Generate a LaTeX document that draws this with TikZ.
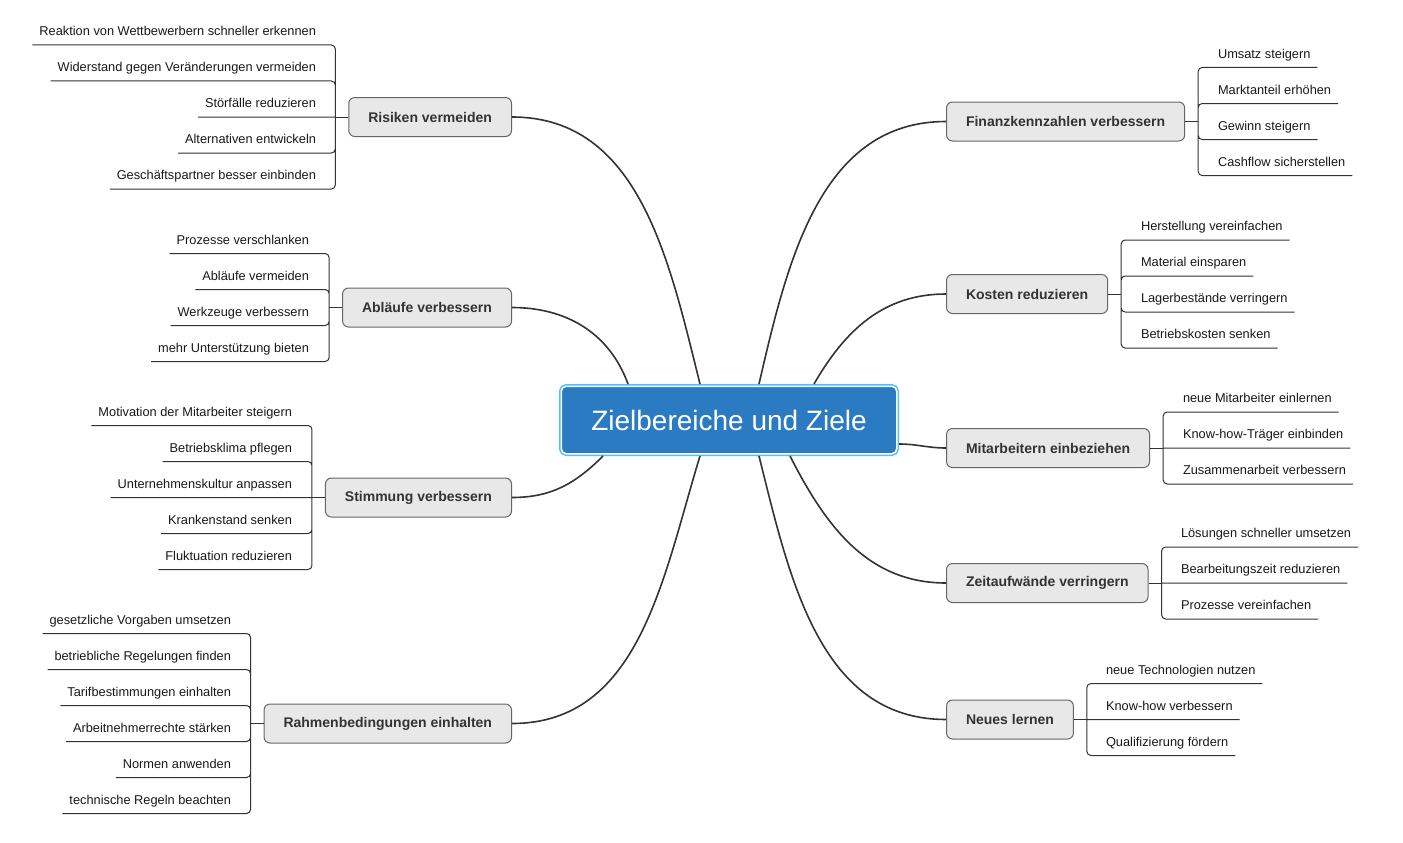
\documentclass[tikz,border=0pt]{standalone}
\usepackage{fontspec}
\setmainfont{Liberation Sans}
\usepackage{xcolor}
\usepackage{tikz}
\usetikzlibrary{calc}

\definecolor{mainblue}{HTML}{2B7BC2}
\definecolor{mainring}{HTML}{4CC2F5}
\definecolor{boxgray}{HTML}{E8E8E8}
\definecolor{linegray}{HTML}{333333}

\tikzset{
  mainbox/.style={fill=mainblue, draw=white, line width=1.5pt,
    preaction={draw=mainring, line width=4.5pt}, rounded corners=5pt,
    minimum width=335.5pt, minimum height=67.5pt, outer sep=2.25pt,
    text=white, font=\fontsize{28}{34}\selectfont},
  topic/.style={draw=black!60, fill=boxgray, rounded corners=6pt, line width=1pt,
    minimum height=39pt, inner xsep=19.5pt, text=black!80,
    font=\bfseries\fontsize{14}{17}\selectfont},
  leafl/.style={anchor=south east, inner xsep=7pt, inner ysep=5.4pt, outer sep=0pt,
    text height=10pt, text depth=4pt, text=black!90, font=\fontsize{12.8}{15}\selectfont},
  leafr/.style={leafl, anchor=south west},
  curve/.style={draw=linegray, line width=1.6pt},
  brace/.style={draw=linegray, line width=1pt, rounded corners=4pt}
}

\begin{document}
\begin{tikzpicture}[x=1pt,y=-1pt]
    \useasboundingbox[fill=white] (0,0) rectangle (1403,843);

    % centre
    \node[mainbox] (main) at (729,420) {Zielbereiche und Ziele};

    % left topics
    \node[topic, anchor=east] (ris) at (512,117) {Risiken vermeiden};
    \node[topic, anchor=east] (abl) at (512,307.5) {Abläufe verbessern};
    \node[topic, anchor=east] (sti) at (512,497.5) {Stimmung verbessern};
    \node[topic, anchor=east] (rah) at (512,723.5) {Rahmenbedingungen einhalten};

    % right topics
    \node[topic, anchor=west] (fin) at (946,121.5) {Finanzkennzahlen verbessern};
    \node[topic, anchor=west] (kos) at (946,294) {Kosten reduzieren};
    \node[topic, anchor=west] (mit) at (946,448) {Mitarbeitern einbeziehen};
    \node[topic, anchor=west] (zei) at (946,583) {Zeitaufwände verringern};
    \node[topic, anchor=west] (neu) at (946,719.5) {Neues lernen};

    % curves from the centre
    \draw[curve] ($(main.north)+(-29,0)$) to[out=104,in=0] (ris.east);
    \draw[curve] ($(main.north)+(-101,0)$) to[out=110,in=0] (abl.east);
    \draw[curve] ($(main.south)+(-126,0)$) to[out=225,in=0] (sti.east);
    \draw[curve] ($(main.south)+(-29,0)$) to[out=253,in=0] (rah.east);
    \draw[curve] ($(main.north)+(30,0)$) to[out=77,in=180] (fin.west);
    \draw[curve] ($(main.north)+(85,0)$) to[out=60,in=180] (kos.west);
    \draw[curve] ($(main.east)+(0,24)$) to[out=0,in=180] (mit.west);
    \draw[curve] ($(main.south)+(61,0)$) to[out=-63,in=180] (zei.west);
    \draw[curve] ($(main.south)+(30,0)$) to[out=-76,in=180] (neu.west);

    % Risiken vermeiden
    \node[leafl] (r1) at (323,45) {Reaktion von Wettbewerbern schneller erkennen};
    \node[leafl] (r2) at (323,81) {Widerstand gegen Veränderungen vermeiden};
    \node[leafl] (r3) at (323,117) {Störfälle reduzieren};
    \node[leafl] (r4) at (323,153) {Alternativen entwickeln};
    \node[leafl] (r5) at (323,189) {Geschäftspartner besser einbinden};
    \draw[brace] (ris.west) -- ++(-13,0) coordinate (risb);
    \draw[brace] (risb) |- (r1.south west) (risb) |- (r2.south west) (risb) -- (r3.south west)
                 (risb) |- (r4.south west) (risb) |- (r5.south west);

    % Abläufe verbessern
    \node[leafl] (a1) at (316,253.5) {Prozesse verschlanken};
    \node[leafl] (a2) at (316,289.5) {Abläufe vermeiden};
    \node[leafl] (a3) at (316,325.5) {Werkzeuge verbessern};
    \node[leafl] (a4) at (316,361.5) {mehr Unterstützung bieten};
    \draw[brace] (abl.west) -- ++(-13,0) coordinate (ablb);
    \draw[brace] (ablb) |- (a1.south west) (ablb) |- (a2.south west)
                 (ablb) |- (a3.south west) (ablb) |- (a4.south west);

    % Stimmung verbessern
    \node[leafl] (s1) at (299,425.5) {Motivation der Mitarbeiter steigern};
    \node[leafl] (s2) at (299,461.5) {Betriebsklima pflegen};
    \node[leafl] (s3) at (299,497.5) {Unternehmenskultur anpassen};
    \node[leafl] (s4) at (299,533.5) {Krankenstand senken};
    \node[leafl] (s5) at (299,569.5) {Fluktuation reduzieren};
    \draw[brace] (sti.west) -- ++(-13,0) coordinate (stib);
    \draw[brace] (stib) |- (s1.south west) (stib) |- (s2.south west) (stib) -- (s3.south west)
                 (stib) |- (s4.south west) (stib) |- (s5.south west);

    % Rahmenbedingungen einhalten
    \node[leafl] (h1) at (238,633.5) {gesetzliche Vorgaben umsetzen};
    \node[leafl] (h2) at (238,669.5) {betriebliche Regelungen finden};
    \node[leafl] (h3) at (238,705.5) {Tarifbestimmungen einhalten};
    \node[leafl] (h4) at (238,741.5) {Arbeitnehmerrechte stärken};
    \node[leafl] (h5) at (238,777.5) {Normen anwenden};
    \node[leafl] (h6) at (238,813.5) {technische Regeln beachten};
    \draw[brace] (rah.west) -- ++(-13,0) coordinate (rahb);
    \draw[brace] (rahb) |- (h1.south west) (rahb) |- (h2.south west) (rahb) |- (h3.south west)
                 (rahb) |- (h4.south west) (rahb) |- (h5.south west) (rahb) |- (h6.south west);

    % Finanzkennzahlen verbessern
    \node[leafr] (f1) at (1211,67.5) {Umsatz steigern};
    \node[leafr] (f2) at (1211,103.5) {Marktanteil erhöhen};
    \node[leafr] (f3) at (1211,139.5) {Gewinn steigern};
    \node[leafr] (f4) at (1211,175.5) {Cashflow sicherstellen};
    \draw[brace] (fin.east) -- ++(13,0) coordinate (finb);
    \draw[brace] (finb) |- (f1.south east) (finb) |- (f2.south east)
                 (finb) |- (f3.south east) (finb) |- (f4.south east);

    % Kosten reduzieren
    \node[leafr] (k1) at (1134,240) {Herstellung vereinfachen};
    \node[leafr] (k2) at (1134,276) {Material einsparen};
    \node[leafr] (k3) at (1134,312) {Lagerbestände verringern};
    \node[leafr] (k4) at (1134,348) {Betriebskosten senken};
    \draw[brace] (kos.east) -- ++(13,0) coordinate (kosb);
    \draw[brace] (kosb) |- (k1.south east) (kosb) |- (k2.south east)
                 (kosb) |- (k3.south east) (kosb) |- (k4.south east);

    % Mitarbeitern einbeziehen
    \node[leafr] (m1) at (1176,412) {neue Mitarbeiter einlernen};
    \node[leafr] (m2) at (1176,448) {Know-how-Träger einbinden};
    \node[leafr] (m3) at (1176,484) {Zusammenarbeit verbessern};
    \draw[brace] (mit.east) -- ++(13,0) coordinate (mitb);
    \draw[brace] (mitb) |- (m1.south east) (mitb) -- (m2.south east) (mitb) |- (m3.south east);

    % Zeitaufwände verringern
    \node[leafr] (z1) at (1174,547) {Lösungen schneller umsetzen};
    \node[leafr] (z2) at (1174,583) {Bearbeitungszeit reduzieren};
    \node[leafr] (z3) at (1174,619) {Prozesse vereinfachen};
    \draw[brace] (zei.east) -- ++(13,0) coordinate (zeib);
    \draw[brace] (zeib) |- (z1.south east) (zeib) -- (z2.south east) (zeib) |- (z3.south east);

    % Neues lernen
    \node[leafr] (n1) at (1099,683.5) {neue Technologien nutzen};
    \node[leafr] (n2) at (1099,719.5) {Know-how verbessern};
    \node[leafr] (n3) at (1099,755.5) {Qualifizierung fördern};
    \draw[brace] (neu.east) -- ++(13,0) coordinate (neub);
    \draw[brace] (neub) |- (n1.south east) (neub) -- (n2.south east) (neub) |- (n3.south east);
\end{tikzpicture}
\end{document}
